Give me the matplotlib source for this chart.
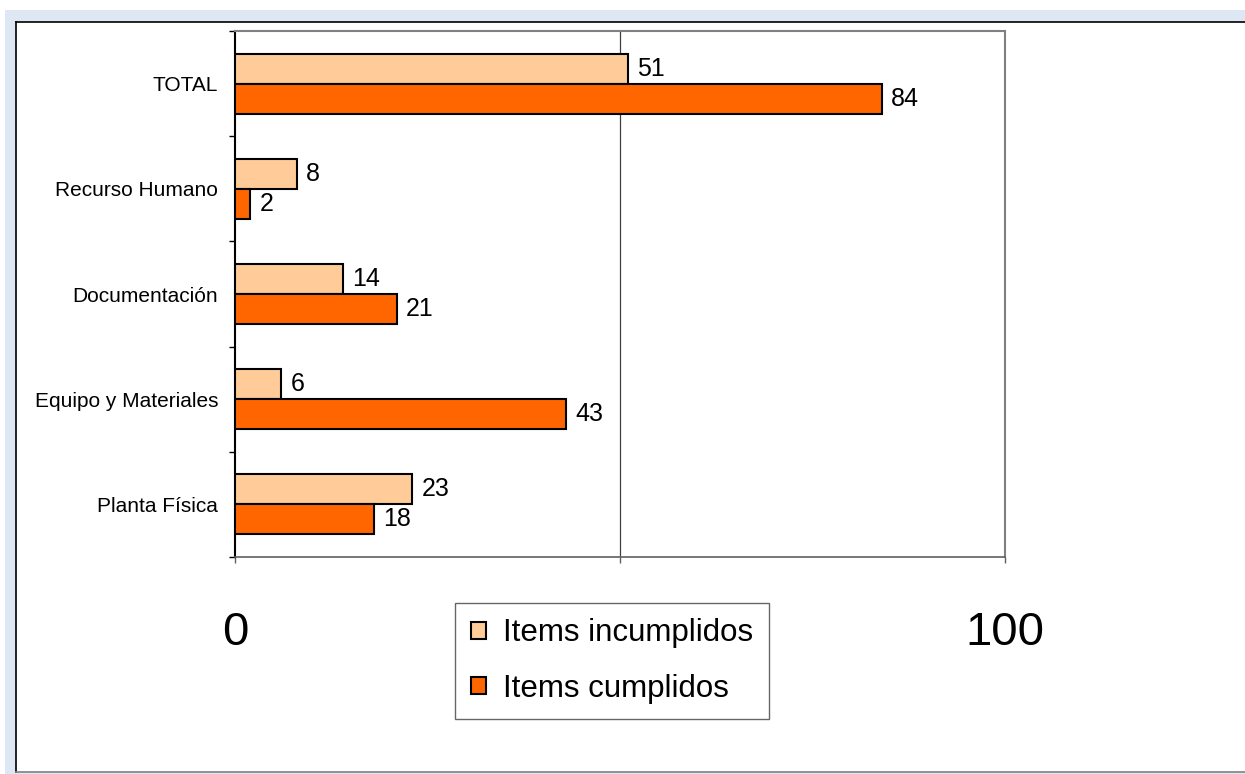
import matplotlib.pyplot as plt
import matplotlib.patches as mpatches
import numpy as np

plt.rcParams['font.family'] = ['Liberation Sans', 'DejaVu Sans']

# Datos (de abajo hacia arriba)
categorias = ["Planta Física", "Equipo y Materiales", "Documentación", "Recurso Humano", "TOTAL"]
incumplidos = [23, 6, 14, 8, 51]
cumplidos = [18, 43, 21, 2, 84]

fig = plt.figure(figsize=(12.45, 7.74), dpi=100)

# Fondo: franja azul clara arriba/izquierda y area blanca del grafico
W, H = 1245, 774
fig.patches.append(mpatches.Rectangle((5 / W, 0), 1, 1 - 10 / H, transform=fig.transFigure,
                                      facecolor='#dde8f4', edgecolor='none', zorder=-3))
fig.patches.append(mpatches.Rectangle((16 / W, 2 / H), 1, 1 - 24 / H, transform=fig.transFigure,
                                      facecolor='white', edgecolor='none', zorder=-2))
fig.lines.append(plt.Line2D([16 / W, 16 / W], [2 / H, 1 - 22 / H], transform=fig.transFigure,
                            color='black', lw=1.2, zorder=-1))
fig.lines.append(plt.Line2D([16 / W, 1], [1 - 22 / H, 1 - 22 / H], transform=fig.transFigure,
                            color='black', lw=1.2, zorder=-1))
fig.lines.append(plt.Line2D([16 / W, 1], [2 / H, 2 / H], transform=fig.transFigure,
                            color='#808080', lw=1.2, zorder=-1))

ax = fig.add_axes([235 / W, 1 - 557 / H, (1005 - 235) / W, (557 - 31) / H])
ax.set_facecolor('none')

y = np.arange(len(categorias))
h = 0.285
b1 = ax.barh(y + h / 2, incumplidos, height=h, color='#ffcc99', edgecolor='black',
             linewidth=1.5, label='Items incumplidos', zorder=3)
b2 = ax.barh(y - h / 2, cumplidos, height=h, color='#ff6600', edgecolor='black',
             linewidth=1.5, label='Items cumplidos', zorder=3)

for bars, vals in ((b1, incumplidos), (b2, cumplidos)):
    for bar, v in zip(bars, vals):
        ax.text(v + 1.2, bar.get_y() + bar.get_height() / 2, str(v),
                va='center', ha='left', fontsize=18, zorder=4)

ax.set_xlim(0, 100)
ax.set_ylim(-0.5, len(categorias) - 0.5)

ax.set_xticks([0, 50, 100])
ax.set_xticklabels(["0", "", "100"], fontsize=34)
ax.tick_params(axis='x', direction='out', length=4, width=1, color='#606060', pad=35)

ax.set_yticks(np.arange(-0.5, len(categorias), 1.0))
ax.set_yticklabels([])
ax.set_yticks(y, minor=True)
ax.set_yticklabels(categorias, minor=True, fontsize=15)
ax.tick_params(axis='y', which='major', direction='out', length=4, width=1, color='black')
ax.tick_params(axis='y', which='minor', length=0, pad=12)

ax.axvline(50, color='#404040', lw=0.9, zorder=2)

ax.spines['left'].set_color('black')
ax.spines['left'].set_linewidth(1.5)
ax.spines['bottom'].set_color('#606060')
ax.spines['bottom'].set_linewidth(1.2)
for s in ('top', 'right'):
    ax.spines[s].set_color('#808080')
    ax.spines[s].set_linewidth(1.5)

leg = fig.legend(handles=[b1, b2], loc='center', bbox_to_anchor=(612 / W, 1 - 661 / H),
                 fontsize=22.5, frameon=True, fancybox=False, handlelength=0.5,
                 handleheight=0.5, handletextpad=0.55, labelspacing=0.8, borderpad=0.5)
leg.get_frame().set_edgecolor('#404040')
leg.get_frame().set_linewidth(1.0)

fig.savefig('out.png', dpi=100)
